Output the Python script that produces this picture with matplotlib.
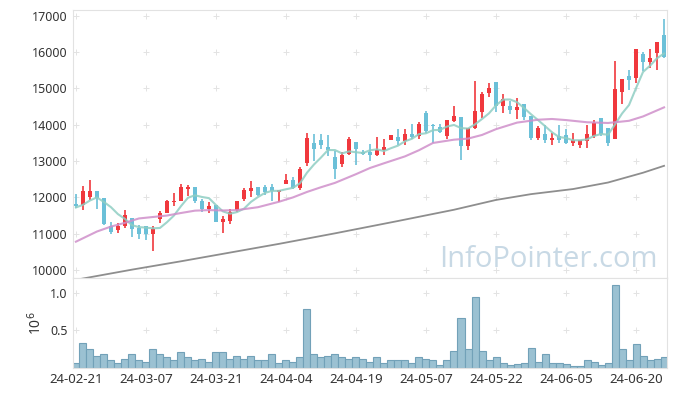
import numpy as np
import pandas as pd
import matplotlib
matplotlib.use('Agg')
import matplotlib.pyplot as plt

plt.rcParams['font.family'] = ['Noto Sans', 'DejaVu Sans']

# daily candles (index = trading day)
opens = [11820, 11780, 12000, 12180, 11980, 11200, 11090, 11200, 11430, 11150,
         11200, 10990, 11410, 11570, 11860, 11910, 12240, 12300, 11910, 11680,
         11800, 11310, 11360, 11640, 11950, 12180, 12300, 12300, 12280, 12160,
         12380, 12490, 12270, 12960, 13500, 13590, 13390, 13110, 12920, 13200,
         13530, 13240, 13250, 13180, 13310, 13570, 13660, 13550, 13760, 13680,
         14330, 14000, 13940, 13680, 14100, 14220, 13410, 13910, 14350, 14880,
         15180, 14510, 14530, 14400, 14560, 14240, 13640, 13760, 13570, 13700,
         13730, 13500, 13430, 13550, 13700, 14190, 13910, 13610, 14900, 15340,
         15290, 15940, 15730, 15990, 16460]
highs = [12100, 12320, 12490, 12180, 11990, 11320, 11290, 11660, 11440, 11240,
         11200, 11200, 11630, 11920, 12120, 12380, 12350, 12300, 11960, 11860,
         11800, 11490, 11680, 11910, 12260, 12460, 12300, 12350, 12370, 12210,
         12640, 12560, 12850, 13780, 13750, 13750, 13710, 13270, 13250, 13660,
         13530, 13310, 13470, 13670, 13610, 13730, 13890, 13890, 14020, 14080,
         14380, 14010, 14010, 14120, 14510, 14220, 13910, 15220, 14900, 15160,
         15180, 14860, 14650, 14740, 14560, 14240, 13960, 14000, 13780, 14000,
         13890, 13780, 13590, 14000, 14140, 14190, 13910, 15750, 15250, 15520,
         16080, 16000, 16080, 16280, 16920]
lows = [11710, 11640, 11930, 11690, 11240, 10990, 11030, 11150, 10900, 10860,
        10840, 10530, 11290, 11570, 11750, 11890, 12030, 11840, 11610, 11570,
        11330, 11010, 11270, 11610, 11890, 12010, 12030, 12070, 11890, 11860,
        12380, 12240, 12210, 12870, 12990, 13340, 13130, 12510, 12840, 13180,
        12880, 13160, 12990, 13130, 13180, 13570, 13440, 13430, 13610, 13620,
        13780, 13500, 13780, 13610, 14070, 13020, 13310, 13890, 14190, 14770,
        14360, 14330, 14310, 14160, 14130, 13570, 13590, 13500, 13450, 13500,
        13480, 13410, 13360, 13360, 13640, 13680, 13410, 13610, 14560, 14970,
        15140, 15480, 15570, 15520, 15850]
closes = [11770, 12180, 12180, 11980, 11260, 11060, 11220, 11520, 11120, 10990,
          10990, 11120, 11570, 11910, 11910, 12280, 12280, 11910, 11680, 11750,
          11330, 11400, 11590, 11910, 12210, 12270, 12070, 12160, 12190, 12210,
          12490, 12270, 12790, 13640, 13340, 13450, 13300, 12790, 13180, 13620,
          13330, 13200, 13160, 13310, 13380, 13730, 13550, 13760, 13660, 14020,
          13840, 13980, 13800, 14120, 14240, 13410, 13910, 14380, 14860, 15020,
          14510, 14700, 14400, 14490, 14220, 13640, 13900, 13570, 13640, 13570,
          13500, 13590, 13570, 13760, 14050, 13760, 13500, 14990, 15250, 15230,
          16080, 15730, 15850, 16280, 15880]
# closes of the 4 days before the window (needed for the 5-day average)
prev_closes = [11810, 11590, 11550, 11890]

volume = [70000, 330000, 250000, 160000, 180000, 110000, 70000, 120000, 180000, 110000,
          80000, 250000, 190000, 150000, 100000, 210000, 150000, 110000, 120000, 80000,
          210000, 210000, 120000, 160000, 120000, 160000, 100000, 100000, 180000, 70000,
          110000, 80000, 140000, 790000, 190000, 140000, 160000, 180000, 140000, 120000,
          140000, 120000, 80000, 140000, 70000, 110000, 110000, 110000, 70000, 140000,
          120000, 110000, 40000, 100000, 220000, 670000, 250000, 950000, 230000, 110000,
          150000, 70000, 40000, 50000, 70000, 260000, 80000, 190000, 70000, 70000,
          50000, 30000, 30000, 110000, 80000, 40000, 70000, 1110000, 250000, 110000,
          320000, 160000, 100000, 120000, 140000]

# longer moving averages at these day indices
ma20_days = [0, 3, 5, 7, 9, 11, 13, 15, 17, 19, 21, 23, 26, 29, 31, 33, 35, 37,
             40, 42, 44, 47, 49, 51, 54, 56, 58, 60, 63, 66, 68, 70, 73, 76, 79, 81, 84]
ma20 = [10780, 11060, 11196, 11300, 11420, 11460, 11500, 11570, 11635, 11650, 11640,
        11650, 11730, 11880, 12000, 12150, 12280, 12400, 12640, 12810, 12940,
        13130, 13300, 13500, 13590, 13620, 13720, 13880, 14060, 14140, 14160, 14130,
        14070, 14050, 14110, 14230, 14480]
ma60_days = [0, 2, 8, 15, 22, 29, 37, 46, 54, 60, 65, 71, 76, 81, 84]
ma60 = [9730, 9800, 10010, 10240, 10480, 10720, 11010, 11350, 11660, 11930,
        12090, 12230, 12410, 12680, 12870]

tick_labels = ['24-02-21', '24-03-07', '24-03-21', '24-04-04', '24-04-19',
               '24-05-07', '24-05-22', '24-06-05', '24-06-20']
tick_every = 10

RED = '#F0383D'
BLUE = '#6BC0D8'

df = pd.DataFrame({'open': opens, 'high': highs, 'low': lows, 'close': closes,
                   'volume': volume})
x = np.arange(len(df))
allc = pd.Series(prev_closes + closes)
ma5 = allc.rolling(5).mean().iloc[len(prev_closes):].values

fig = plt.figure(figsize=(6.77, 3.96), dpi=100)
ax = fig.add_axes([0.108, 0.298, 0.877, 0.677])
ax2 = fig.add_axes([0.108, 0.071, 0.877, 0.227], sharex=ax)

up = df['close'] >= df['open']
colors = np.where(up, RED, BLUE)
body_lo = np.minimum(df['open'], df['close'])
body_h = np.maximum((df['close'] - df['open']).abs(), 18)

ax.text(0.985, 0.04, 'InfoPointer.com', transform=ax.transAxes, ha='right',
        va='baseline', fontsize=21, color='#C8D9E5', family='Open Sans', zorder=0)

ax.vlines(x, df['low'], df['high'], color=colors, lw=1.2, zorder=2)
ax.bar(x, body_h, bottom=body_lo, width=0.66, color=colors, zorder=3)

ax.plot(x, ma5, color='#8FCEC3', lw=1.5, alpha=0.85, zorder=4)
ax.plot(ma20_days, ma20, color='#CF8FCA', lw=1.5, alpha=0.85, zorder=4)
ax.plot(ma60_days, ma60, color='#8E8E8E', lw=1.3, zorder=4)

ax2.bar(x, df['volume'] / 1e6, width=1.0, color='#9BC1D2', edgecolor='#72A1B8',
        lw=0.8, zorder=2)

xt = np.arange(0, len(df), tick_every)
ax.set_xlim(-0.4, 84.4)
ax.set_ylim(9780, 17165)
ax2.set_ylim(0, 1.2)

price_ticks = np.arange(10000, 17001, 1000)
vol_ticks = [0.5, 1.0]
ax.set_yticks(price_ticks)
ax2.set_yticks(vol_ticks)
ax2.set_xticks(xt)
ax2.set_xticklabels(tick_labels, fontsize=9.5)
ax2.set_ylabel('10$^6$', fontsize=10, color='#333333', labelpad=4)

# grid drawn as little crosses at tick intersections
gx, gy = np.meshgrid(xt, price_ticks)
ax.plot(gx.ravel(), gy.ravel(), ls='none', marker='+', ms=4.5, mew=0.7,
        color='#E3E3E3', zorder=1)
gx, gy = np.meshgrid(xt, vol_ticks)
ax2.plot(gx.ravel(), gy.ravel(), ls='none', marker='+', ms=4.5, mew=0.7,
         color='#E3E3E3', zorder=1)

for a in (ax, ax2):
    for s in a.spines.values():
        s.set_color('#E2E2E2')
    a.tick_params(length=0, labelsize=9, colors='#333333', pad=4)
ax.tick_params(labelbottom=False)
ax2.tick_params(axis='x', labelsize=9.5)

fig.savefig('out.png', dpi=100)
